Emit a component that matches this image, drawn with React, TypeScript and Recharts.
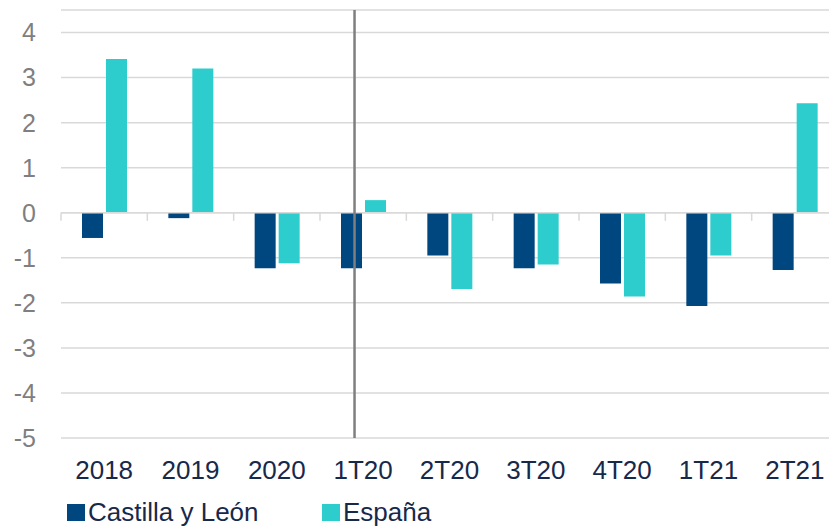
import React from "react";
import {
  BarChart,
  Bar,
  XAxis,
  YAxis,
  CartesianGrid,
  Legend,
  ReferenceLine,
} from "recharts";

const categories = ["2018", "2019", "2020", "1T20", "2T20", "3T20", "4T20", "1T21", "2T21"];
const castillaYLeon = [-0.56, -0.12, -1.23, -1.23, -0.95, -1.23, -1.57, -2.07, -1.27];
const espana = [3.41, 3.2, -1.12, 0.28, -1.69, -1.15, -1.86, -0.95, 2.43];
const yTicks = [-5, -4, -3, -2, -1, 0, 1, 2, 3, 4];

const DARK = "#00467F";
const TEAL = "#2ECDCD";
const FONT = "'Liberation Sans', Arial, sans-serif";

const data = categories.map((c, i) => ({
  name: c,
  slot: i,
  cyl: castillaYLeon[i],
  esp: espana[i],
}));

// category boundaries, for the small tick marks hanging from the zero line
const boundaries = categories.map((_, i) => i).concat(categories.length);

function LegendContent() {
  const items = [
    { label: "Castilla y León", color: DARK, width: 255 },
    { label: "España", color: TEAL, width: 150 },
  ];
  return (
    <div style={{ display: "flex", paddingLeft: 67, paddingTop: 5, fontFamily: FONT, fontSize: 26, color: "#17294B", lineHeight: "29px" }}>
      {items.map((it) => (
        <div key={it.label} style={{ width: it.width, display: "flex", alignItems: "baseline" }}>
          <span style={{ display: "inline-block", width: 18, height: 17, background: it.color, marginRight: 3 }} />
          <span>{it.label}</span>
        </div>
      ))}
    </div>
  );
}

export default function App() {
  return (
    <div style={{ position: "absolute", left: 0, top: 0, width: 829, height: 527, overflow: "hidden", background: "#fff" }}>
      <BarChart
        width={838}
        height={527}
        data={data}
        margin={{ top: 10, right: 0, bottom: 0, left: 0 }}
        barSize={21}
        barGap={3}
      >
        <CartesianGrid horizontal vertical={false} stroke="#D9D9D9" strokeWidth={1.5} />
        <XAxis
          dataKey="name"
          height={55}
          axisLine={false}
          tickLine={false}
          tickSize={0}
          tickMargin={23}
          interval={0}
          tick={{ fill: "#17294B", fontSize: 26, fontFamily: FONT }}
        />
        <XAxis
          xAxisId="pos"
          dataKey="slot"
          type="number"
          scale="linear"
          domain={[0, categories.length]}
          allowDataOverflow
          padding={{ left: 0, right: 0 }}
          hide
        />
        <YAxis
          domain={[-5, 4.5]}
          ticks={yTicks}
          width={61}
          axisLine={false}
          tickLine={false}
          tickSize={0}
          tickMargin={25}
          tick={{ fill: "#7F7F7F", fontSize: 25, fontFamily: FONT }}
        />
        <Legend height={34} verticalAlign="bottom" content={<LegendContent />} />
        <Bar dataKey="cyl" name="Castilla y León" fill={DARK} isAnimationActive={false} />
        <Bar dataKey="esp" name="España" fill={TEAL} isAnimationActive={false} />
        <ReferenceLine y={0} stroke="#D9D9D9" strokeWidth={1.5} />
        {boundaries.map((b) => (
          <ReferenceLine
            key={b}
            xAxisId="pos"
            segment={[{ x: b, y: 0 }, { x: b, y: -0.18 }]}
            stroke="#D9D9D9"
            strokeWidth={1.5}
            ifOverflow="visible"
          />
        ))}
        <ReferenceLine xAxisId="pos" x={3.4} stroke="#7F7F7F" strokeWidth={2.5} />
      </BarChart>
    </div>
  );
}
